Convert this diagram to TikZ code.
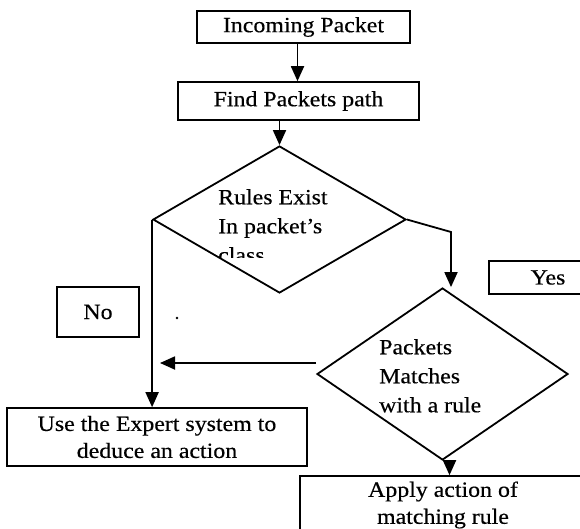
\documentclass[tikz,border=0pt]{standalone}
\usepackage{fontspec}
\setmainfont{Liberation Serif}[FakeStretch=1.1,FakeBold=0.4]
\usetikzlibrary{shapes.geometric,arrows.meta}

\begin{document}
\begin{tikzpicture}[
    x=1pt, y=-1pt,
    font=\fontsize{21.7}{27}\selectfont,
    procbox/.style={rectangle, draw=black, line width=1.6pt, inner sep=0pt, align=center},
    decision/.style={diamond, draw=black, line width=1.8pt, inner sep=0pt},
    dectext/.style={anchor=north west, inner sep=0pt, align=left, font=\fontsize{21.7}{29}\selectfont},
    arr/.style={-{Triangle[length=15pt,width=13pt]}, line width=1.8pt}
]
    \clip (0,0) rectangle (580,529);

    \node[procbox, minimum width=213pt, minimum height=32pt] at (303.5,27) (incoming) {Incoming Packet};
    \node[procbox, minimum width=241pt, minimum height=38pt] at (298.5,101) (findpath) {Find Packets path};

    \node[decision, minimum width=253pt, minimum height=147pt] at (279.5,219.5) (rules) {};
    \begin{scope}
        \clip (150,140) rectangle (410,257);
        \node[dectext] at (218,189) (rulestext) {Rules Exist\\In packet's\\class};
    \end{scope}

    \node[decision, minimum width=251pt, minimum height=172pt] at (442.5,374) (matches) {};
    \node[dectext] at (379,339) (matchtext) {Packets\\Matches\\with a rule};

    \node[procbox, minimum width=118pt, minimum height=33pt] at (548,277.5) (yes) {Yes};
    \node[procbox, minimum width=82pt, minimum height=50pt] at (98,312) (no) {No};
    \fill (177,318) circle (1.3pt);

    \node[procbox, minimum width=300pt, minimum height=58pt] at (157,437) (expert) {Use the Expert system to\\deduce an action};
    \node[procbox, minimum width=286pt, minimum height=58pt] at (443,505) (apply) {Apply action of\\matching rule};

    \draw[arr] ([xshift=-6pt]incoming.south) -- ([xshift=-6pt]incoming.south |- findpath.north);
    \draw[arr] (findpath.south -| rules.north) -- (rules.north);
    \coordinate (bend) at (451,232);
    \draw[arr] (rules.east) -- (bend) -- (bend |- matches.north);
    \draw[arr] (rules.west) -- (rules.west |- expert.north);
    \coordinate (join) at (160,363);
    \draw[arr] (matches.west |- join) -- (join);
    \draw[arr] ([xshift=7pt]matches.south) -- ([xshift=7pt]matches.south |- apply.north);
\end{tikzpicture}
\end{document}
